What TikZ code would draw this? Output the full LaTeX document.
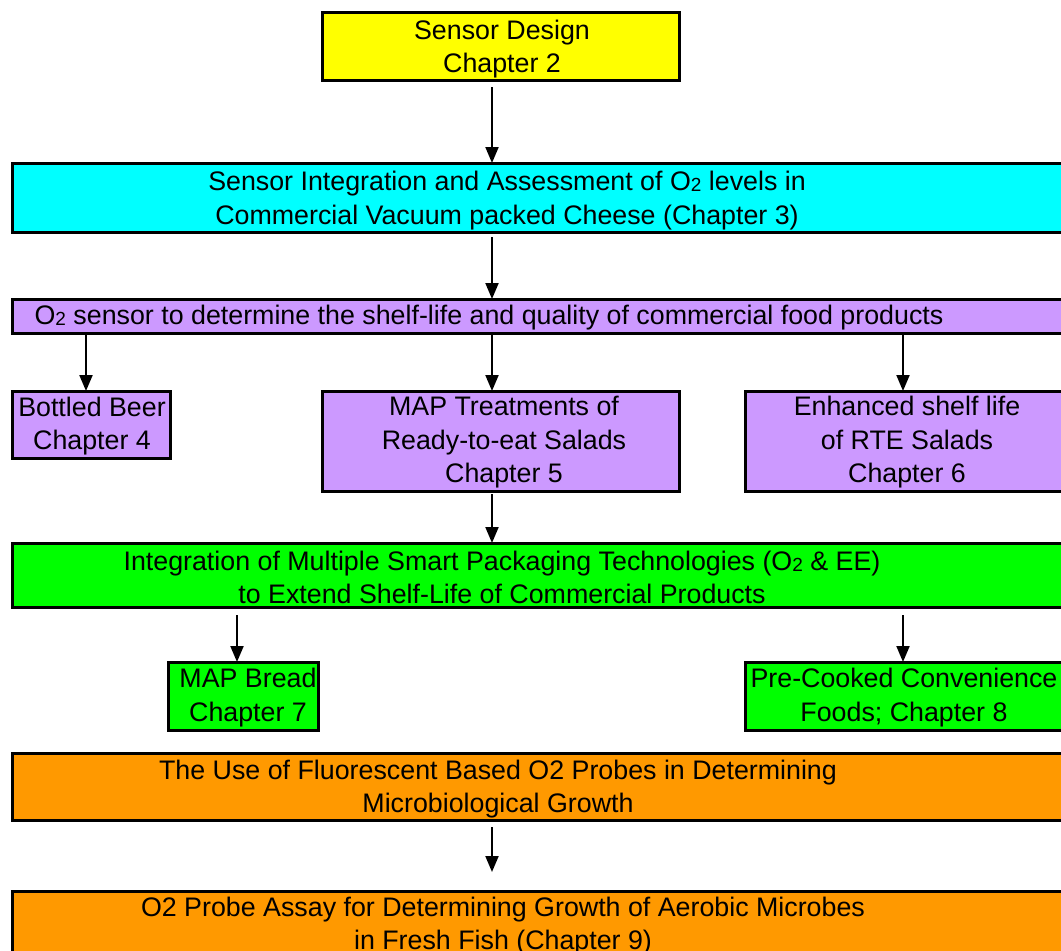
\documentclass[tikz,border=0pt]{standalone}
\usepackage{fontspec}
\setmainfont{Liberation Sans}
\usetikzlibrary{arrows.meta}
\definecolor{cyellow}{HTML}{FFFF00}
\definecolor{ccyan}{HTML}{00FFFF}
\definecolor{cpurple}{HTML}{CC99FF}
\definecolor{cgreen}{HTML}{00FF00}
\definecolor{corange}{HTML}{FF9900}
\newcommand{\subtwo}{\raisebox{-1pt}{\fontsize{19}{19}\selectfont 2}}
\tikzset{
  box/.style={draw=black, line width=3pt, inner sep=0pt, outer sep=0pt},
  txt/.style={align=center, font=\fontsize{26.8}{33.5}\selectfont, inner sep=0pt, text=black},
  arr/.style={line width=2pt, -{Triangle[length=16pt,width=13pt]}},
}
\begin{document}
\begin{tikzpicture}[x=1pt,y=-1pt]
\useasboundingbox (0,0) rectangle (1061,951);
\clip (0,0) rectangle (1061,951);
% boxes
\node[box, fill=cyellow, minimum width=357pt, minimum height=68pt] (yellow) at (500.5,46) {};
\node[box, fill=ccyan, minimum width=1063pt, minimum height=69pt] (cyan) at (543.5,197.5) {};
\node[box, fill=cpurple, minimum width=1063pt, minimum height=34pt] (purple) at (543.5,316) {};
\node[box, fill=cpurple, minimum width=158pt, minimum height=67pt] (beer) at (91,424.5) {};
\node[box, fill=cpurple, minimum width=357pt, minimum height=100pt] (map) at (500.5,441) {};
\node[box, fill=cpurple, minimum width=335pt, minimum height=100pt] (rte) at (912.5,441) {};
\node[box, fill=cgreen, minimum width=1063pt, minimum height=64pt] (green) at (543.5,575) {};
\node[box, fill=cgreen, minimum width=150pt, minimum height=68pt] (bread) at (243,696) {};
\node[box, fill=cgreen, minimum width=335pt, minimum height=68pt] (cook) at (912.5,696) {};
\node[box, fill=corange, minimum width=1063pt, minimum height=67pt] (orA) at (543.5,786.5) {};
\node[box, fill=corange, minimum width=1063pt, minimum height=74pt] (orB) at (543.5,928) {};
% texts
\node[txt] (tyellow) at (502,49) {Sensor Design\\Chapter 2};
\node[txt] (tcyan) at (507,200.5) {Sensor Integration and Assessment of O\subtwo{} levels in\\Commercial Vacuum packed Cheese (Chapter 3)};
\node[txt] (tpurple) at (489,317.5) {O\subtwo{} sensor to determine the shelf-life and quality of commercial food products};
\node[txt] (tbeer) at (92,426) {Bottled Beer\\Chapter 4};
\node[txt] (tmap) at (504,442.5) {MAP Treatments of\\Ready-to-eat Salads\\Chapter 5};
\node[txt] (trte) at (907,442.5) {Enhanced shelf life\\of RTE Salads\\Chapter 6};
\node[txt] (tgreen) at (502,577.5) {Integration of Multiple Smart Packaging Technologies (O\subtwo{} \& EE)\\to Extend Shelf-Life of Commercial Products};
\node[txt] (tbread) at (248,697.5) {MAP Bread\\Chapter 7};
\node[txt] (tcook) at (904,697.5) {Pre-Cooked Convenience\\Foods; Chapter 8};
\node[txt] (torA) at (498,789) {The Use of Fluorescent Based O2 Probes in Determining\\Microbiological Growth};
\node[txt] (torB) at (503,926) {O2 Probe Assay for Determining Growth of Aerobic Microbes\\in Fresh Fish (Chapter 9)};
% arrow columns
\coordinate (xa) at (492,0);
\coordinate (xb) at (86,0);
\coordinate (xc) at (903,0);
\coordinate (xd) at (237,0);
% connectors
\draw[arr] ([yshift=-7pt]yellow.south -| xa) -- (cyan.north -| xa);
\draw[arr] ([yshift=-5pt]cyan.south -| xa) -- (purple.north -| xa);
\draw[arr] (purple.south -| xb) -- (beer.north -| xb);
\draw[arr] (purple.south -| xa) -- (map.north -| xa);
\draw[arr] (purple.south -| xc) -- (rte.north -| xc);
\draw[arr] ([yshift=-3pt]map.south -| xa) -- (green.north -| xa);
\draw[arr] ([yshift=-8pt]green.south -| xd) -- (bread.north -| xd);
\draw[arr] ([yshift=-8pt]green.south -| xc) -- (cook.north -| xc);
\draw[arr] ([yshift=-7pt]orA.south -| xa) -- ([yshift=19pt]orB.north -| xa);
\end{tikzpicture}
\end{document}
